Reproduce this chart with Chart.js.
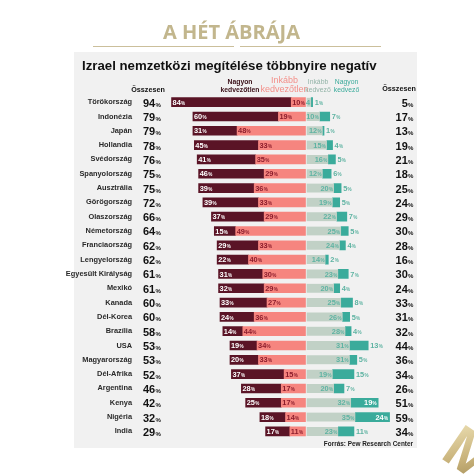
<!DOCTYPE html>
<html><head><meta charset="utf-8">
<script src="https://cdn.jsdelivr.net/npm/chart.js@4"></script>
<style>html,body{margin:0;padding:0;background:#fff}canvas{display:block}</style>
</head><body>
<canvas id="c" width="474" height="474"></canvas>
<script>
const countries = ["Törökország","Indonézia","Japán","Hollandia","Svédország","Spanyolország","Ausztrália","Görögország","Olaszország","Németország","Franciaország","Lengyelország","Egyesült Királyság","Mexikó","Kanada","Dél-Korea","Brazília","USA","Magyarország","Dél-Afrika","Argentina","Kenya","Nigéria","India"];
const totalUnfav    = [94,79,79,78,76,75,75,72,66,64,62,62,61,61,60,60,58,53,53,52,46,42,32,29];
const veryUnfav     = [84,60,31,45,41,46,39,39,37,15,29,22,31,32,33,24,14,19,20,37,28,25,18,17];
const somewhatUnfav = [10,19,48,33,35,29,36,33,29,49,33,40,30,29,27,36,44,34,33,15,17,17,14,11];
const somewhatFav   = [4,10,12,15,16,12,20,19,22,25,24,14,23,20,25,26,28,31,31,19,20,32,35,23];
const veryFav       = [1,7,1,4,5,6,5,5,7,5,4,2,7,4,8,5,4,13,5,15,7,19,24,11];
const totalFav      = [5,17,13,19,21,18,25,24,29,30,28,16,30,24,33,31,32,44,36,34,26,51,59,34];

const FONT = '"Liberation Sans", Arial, sans-serif';
const C_DARK = '#5a1426', C_SALMON = '#f6857f', C_GREY = '#c1d1c6', C_TEAL = '#3aab9b', PANEL = '#f1f1f1';

function pct(ctx, num, x, y, align, color, size, showPct = true, ratio = 0.62) {
  ctx.save();
  ctx.fillStyle = color;
  ctx.textBaseline = 'alphabetic';
  ctx.textAlign = 'left';
  const f1 = `bold ${size}px ${FONT}`;
  const f2 = `bold ${size * ratio}px ${FONT}`;
  ctx.font = f1; const w1 = ctx.measureText(String(num)).width;
  ctx.font = f2; const w2 = showPct ? ctx.measureText('%').width + 0.3 : 0;
  const x0 = align === 'left' ? x : align === 'right' ? x - w1 - w2 : x - (w1 + w2) / 2;
  const base = y + size * 0.36;
  ctx.font = f1; ctx.fillText(String(num), x0, base);
  if (showPct) { ctx.font = f2; ctx.fillText('%', x0 + w1 + 0.3, base); }
  ctx.restore();
}

function fitText(ctx, text, weight, family, targetW) {
  ctx.font = `${weight} 100px ${family}`;
  return 100 * targetW / ctx.measureText(text).width;
}

const decoPlugin = {
  id: 'deco',
  beforeDraw(chart) {
    const ctx = chart.ctx;
    ctx.save();
    ctx.fillStyle = '#fff'; ctx.fillRect(0, 0, 474, 474);
    ctx.fillStyle = PANEL; ctx.fillRect(74, 52, 343, 396);
    // gold heading
    const g = 'A HÉT ÁBRÁJA';
    const gs = fitText(ctx, g, 'bold', '"Open Sans", sans-serif', 137);
    ctx.font = `bold ${gs}px "Open Sans", sans-serif`;
    ctx.fillStyle = '#c2b68d'; ctx.textAlign = 'center'; ctx.textBaseline = 'alphabetic';
    ctx.fillText(g, 231.5, 39);
    ctx.strokeStyle = '#cbbf9b'; ctx.lineWidth = 1.2;
    ctx.beginPath(); ctx.moveTo(93, 46.5); ctx.lineTo(234, 46.5); ctx.moveTo(240, 46.5); ctx.lineTo(381, 46.5); ctx.stroke();
    // chart title
    const t = 'Izrael nemzetközi megítélése többnyire negatív';
    const ts = fitText(ctx, t, 'bold', FONT, 295);
    ctx.font = `bold ${ts}px ${FONT}`;
    ctx.fillStyle = '#111'; ctx.textAlign = 'left';
    ctx.fillText(t, 82, 69.5);
    // column headers
    ctx.textAlign = 'center';
    const hdr = (lines, x, color, font, ys) => { ctx.fillStyle = color; ctx.font = font; lines.forEach((l, k) => ctx.fillText(l, x, ys[k])); };
    hdr(['Nagyon', 'kedvezőtlen'], 240, '#3a1018', `bold 6.8px ${FONT}`, [84, 91.5]);
    hdr(['Inkább', 'kedvezőtlen'], 284.5, '#f3908a', `9px ${FONT}`, [83, 91.5]);
    hdr(['Inkább', 'kedvező'], 318, '#93b4a8', `6.8px ${FONT}`, [84, 91.5]);
    hdr(['Nagyon', 'kedvező'], 346.5, '#3aab9b', `6.8px ${FONT}`, [84, 91.5]);
    hdr(['Összesen'], 148, '#111', `bold 7.2px ${FONT}`, [91.5]);
    hdr(['Összesen'], 399, '#111', `bold 7.2px ${FONT}`, [91]);
    ctx.restore();
  },
  afterDatasetsDraw(chart) {
    const ctx = chart.ctx;
    chart.data.datasets.forEach((ds, di) => {
      const meta = chart.getDatasetMeta(di);
      meta.data.forEach((el, i) => {
        const v = Math.abs(ds.data[i]);
        const left = Math.min(el.x, el.base), right = Math.max(el.x, el.base);
        const y = el.y;
        if (di === 0) pct(ctx, v, left + 1, y, 'left', '#8c1d2c', 7.4);
        else if (di === 1) pct(ctx, v, left + 1, y, 'left', '#ffffff', 7.4);
        else if (di === 2) {
          const narrow = (right - left) < 12;
          pct(ctx, v, right - 1, y, 'right', '#5eb3a2', 7.4, !narrow);
        } else {
          if (v >= 18) pct(ctx, v, right - 1.5, y, 'right', '#ffffff', 7.4);
          else pct(ctx, v, right + 2, y, 'left', '#5eb3a2', 7.4);
        }
      });
    });
    // totals
    const yScale = chart.scales.y;
    countries.forEach((c, i) => {
      const y = yScale.getPixelForValue(i);
      pct(ctx, totalUnfav[i], 143, y + 0.5, 'left', '#111', 11, true, 0.55);
      pct(ctx, totalFav[i], 413.5, y + 0.5, 'right', '#111', 11, true, 0.55);
    });
  },
  afterDraw(chart) {
    const ctx = chart.ctx;
    ctx.save();
    ctx.font = `bold 6.4px ${FONT}`;
    ctx.fillStyle = '#222'; ctx.textAlign = 'right'; ctx.textBaseline = 'alphabetic';
    ctx.fillText('Forrás: Pew Research Center', 413, 446);
    // logo fragment
    ctx.translate(470, 458);
    ctx.rotate(0.6);
    const grad = ctx.createLinearGradient(-30, -30, 30, 30);
    grad.addColorStop(0, '#efe3b8'); grad.addColorStop(0.5, '#c8b27a'); grad.addColorStop(1, '#8f7a45');
    ctx.fillStyle = grad;
    ctx.font = `bold 58px "Open Sans", sans-serif`;
    ctx.textAlign = 'center'; ctx.textBaseline = 'middle';
    ctx.fillText('M', 0, 0);
    ctx.restore();
  }
};

new Chart(document.getElementById('c'), {
  type: 'bar',
  data: {
    labels: countries,
    datasets: [
      { label: 'Inkább kedvezőtlen', data: somewhatUnfav.map(v => -v), backgroundColor: C_SALMON },
      { label: 'Nagyon kedvezőtlen', data: veryUnfav.map(v => -v), backgroundColor: C_DARK },
      { label: 'Inkább kedvező', data: somewhatFav, backgroundColor: C_GREY, borderColor: PANEL, borderWidth: { left: 1.5, right: 0, top: 0, bottom: 0 }, borderSkipped: false },
      { label: 'Nagyon kedvező', data: veryFav, backgroundColor: C_TEAL }
    ]
  },
  options: {
    indexAxis: 'y',
    responsive: false,
    animation: false,
    events: [],
    barThickness: 9,
    layout: { padding: { left: 0, right: 54.5, top: 95, bottom: 34 } },
    plugins: { legend: { display: false }, tooltip: { enabled: false } },
    scales: {
      x: { stacked: true, min: -100, max: 80, display: false },
      y: {
        stacked: true,
        grid: { display: false, drawTicks: false },
        border: { display: false },
        ticks: { padding: 31, color: '#2a2a2a', font: { family: FONT, size: 7.4, weight: 'bold' } },
        afterFit: s => { s.width = 163; }
      }
    }
  },
  plugins: [decoPlugin]
});
</script>
</body></html>
